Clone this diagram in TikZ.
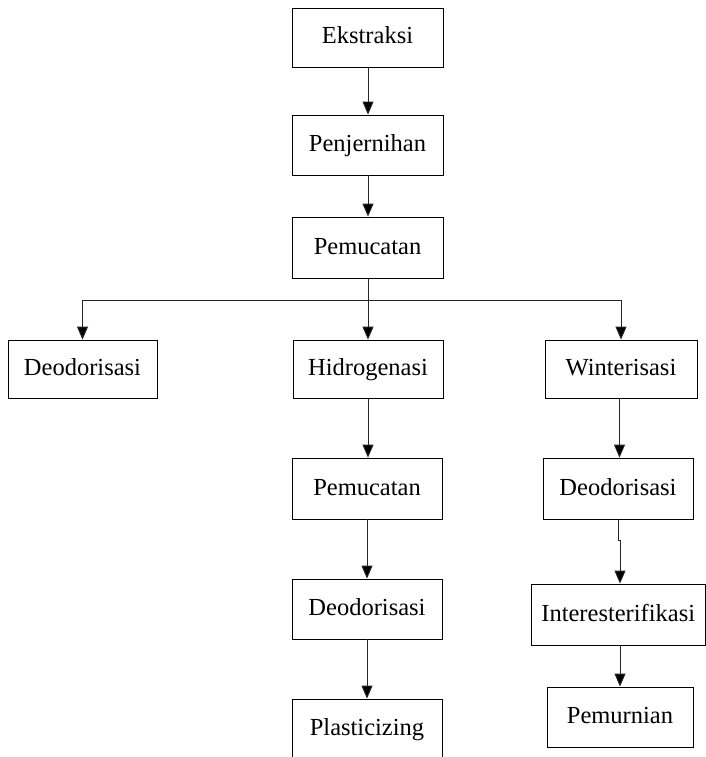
\documentclass[tikz,border=0pt]{standalone}
\usepackage{fontspec}
\setmainfont{Liberation Serif}
\usetikzlibrary{arrows.meta}
\begin{document}
\begin{tikzpicture}[x=1pt,y=-1pt,
  box/.style={draw=black,line width=0.8pt,rectangle,inner sep=0pt,minimum height=60pt,
    font=\fontsize{24.5}{28}\selectfont,text height=17pt,text depth=4pt,fill=white},
  conn/.style={draw=black!85,line width=0.9pt},
  arr/.style={conn,-{Triangle[width=11pt,length=13pt,fill=black]}}]
\useasboundingbox (0,0) rectangle (706,757);
\clip (0,0) rectangle (706,757);
\node[box,minimum width=151pt,minimum height=59pt] (eks) at (367.5,37.5) {Ekstraksi};
\node[box,minimum width=151pt] (pen) at (367.5,145) {Penjernihan};
\node[box,minimum width=151pt,minimum height=61pt] (pem) at (367.5,247.5) {Pemucatan};
\node[box,minimum width=149pt,minimum height=58pt] (deoA) at (82.5,369) {Deodorisasi};
\node[box,minimum width=150pt,minimum height=58pt] (hid) at (368,369) {Hidrogenasi};
\node[box,minimum width=152pt,minimum height=58pt] (win) at (621,369) {Winterisasi};
\node[box,minimum width=150pt,minimum height=61pt] (pemB) at (367,488.5) {Pemucatan};
\node[box,minimum width=150pt] (deoB) at (367,609) {Deodorisasi};
\node[box,minimum width=150pt] (pla) at (367,729) {Plasticizing};
\node[box,minimum width=150pt,minimum height=61pt] (deoC) at (618,488.5) {Deodorisasi};
\node[box,minimum width=174pt,minimum height=61pt] (inter) at (618.25,614.5) {Interesterifikasi};
\node[box,minimum width=146pt] (pemur) at (620,717) {Pemurnian};
% connectors
\draw[arr] (eks.south -| 368,0) -- (pen.north -| 368,0);
\draw[arr] (pen.south -| 368,0) -- (pem.north -| 368,0);
\draw[conn] (pem.south -| 368,0) -- (368,300) coordinate (j);
\draw[arr] (j) -| (deoA.north);
\draw[arr] (j) -| (win.north);
\draw[arr] (j) -- (hid.north);
\draw[arr] (hid.south) -- (hid.south |- pemB.north);
\draw[arr] (pemB.south) -- (deoB.north);
\draw[arr] (deoB.south) -- (pla.north);
\draw[arr] (619.5,398) coordinate (w) (win.south -| w) -- (deoC.north -| w);
\draw[arr] (deoC.south) -- ++(0,21) coordinate (k) -- ++(2,0) -- (inter.north -| pemur);
\draw[arr] (inter.south -| pemur) -- (pemur.north);
\end{tikzpicture}
\end{document}
